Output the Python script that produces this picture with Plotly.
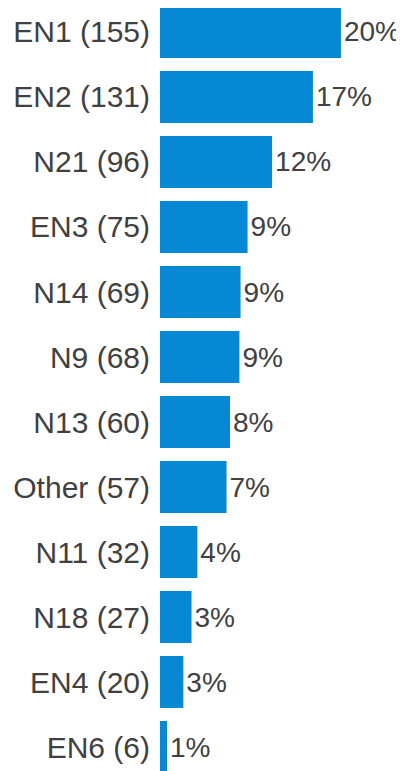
import plotly.graph_objects as go

categories = ["EN1", "EN2", "N21", "EN3", "N14", "N9", "N13", "Other", "N11", "N18", "EN4", "EN6"]
counts = [155, 131, 96, 75, 69, 68, 60, 57, 32, 27, 20, 6]
pct_labels = ["20%", "17%", "12%", "9%", "9%", "9%", "8%", "7%", "4%", "3%", "3%", "1%"]

tick_labels = [f"{c} ({n})" for c, n in zip(categories, counts)]

fig = go.Figure(go.Bar(
    y=tick_labels,
    x=counts,
    orientation="h",
    marker=dict(color="#0688d4", line=dict(width=0)),
    width=0.8,
    text=pct_labels,
    textposition="outside",
    cliponaxis=False,
    textfont=dict(family="Liberation Sans, Arial, sans-serif", size=28, color="#404040"),
    hoverinfo="skip",
))

# the page body has an 8px margin, so the figure is sized to the visible area
fig.update_layout(
    width=396,
    height=763,
    margin=dict(l=152, r=0, t=0, b=0, autoexpand=False),
    paper_bgcolor="white",
    plot_bgcolor="white",
    showlegend=False,
    font=dict(family="Liberation Sans, Arial, sans-serif", size=28, color="#404040"),
    xaxis=dict(range=[0, 209], visible=False, fixedrange=True, automargin=False),
    yaxis=dict(
        type="category",
        range=[11.369, -0.369],
        showgrid=False,
        zeroline=False,
        showline=False,
        ticks="",
        automargin=False,
        ticklabelstandoff=9,
        tickfont=dict(family="Liberation Sans, Arial, sans-serif", size=30, color="#404040"),
        fixedrange=True,
    ),
)

fig.write_html("out.html")
